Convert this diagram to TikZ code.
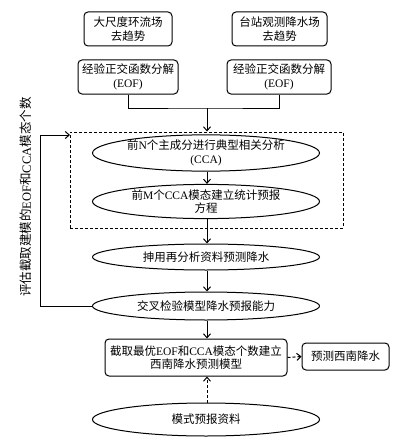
\documentclass[tikz,border=0pt]{standalone}
\usepackage{fontspec}
\setmainfont{Liberation Serif}
\newfontfamily\cjk{Noto Sans CJK SC}
\newcommand\latn[1]{{\rmfamily #1}}
\usetikzlibrary{shapes.geometric,arrows.meta,calc}
\begin{document}
\begin{tikzpicture}[x=1pt,y=-1pt,
  every node/.style={font=\cjk\fontsize{11.5}{13.5}\selectfont},
  rbox/.style={draw,rounded corners=4pt,align=center,inner sep=0pt,line width=1pt},
  ell/.style={draw,ellipse,align=center,inner sep=0pt,minimum width=227pt,line width=1pt},
  dbox/.style={draw,dash pattern=on 3pt off 2pt,line width=1pt,inner sep=0pt,minimum width=273pt,minimum height=96pt},
  arr/.style={-{Straight Barb[length=4pt,width=7pt]},line width=1pt},
  darr/.style={arr,dash pattern=on 3pt off 2pt},
  ln/.style={line width=1pt}]
\useasboundingbox (0,0) rectangle (407,444);
\fill[white] (0,0) rectangle (407,444);

\node[rbox,minimum width=88pt,minimum height=34pt] (b1) at (128,29) {大尺度环流场\\去趋势};
\node[rbox,minimum width=95pt,minimum height=34pt] (b2) at (279.5,29) {台站观测降水场\\去趋势};
\node[rbox,minimum width=100pt,minimum height=34pt] (e1) at (128,77) {经验正交函数分解\\\latn{(EOF)}};
\node[rbox,minimum width=104pt,minimum height=34pt] (e2) at (279,77) {经验正交函数分解\\\latn{(EOF)}};

\node[dbox] (db) at (206.5,180) {};
\coordinate (j) at (207,108);

\node[ell,minimum height=31pt] (c1) at (206,153) {前\latn{N}个主成分进行典型相关分析\\\latn{(CCA)}};
\node[ell,minimum height=34pt] (c2) at (206,201.5) {前\latn{M}个\latn{CCA}模态建立统计预报\\方程};
\node[ell,minimum height=26pt] (c3) at (206,257) {抻用再分析资料预测降水};
\node[ell,minimum height=28pt] (c4) at (206,306) {交叉检验模型降水预报能力};
\node[rbox,minimum width=182pt,minimum height=37pt] (b5) at (196,357.5) {截取最优\latn{EOF}和\latn{CCA}模态个数建立\\西南降水预测模型};
\node[rbox,minimum width=87pt,minimum height=27pt] (b6) at (345.5,356.5) {预测西南降水};
\node[ell,minimum height=33pt] (c7) at (206,419.5) {模式预报资料};

\node[rotate=90,font=\cjk\fontsize{12.5}{14}\selectfont] (lab) at (26,197) {评估截取建模的\latn{EOF}和\latn{CCA}模态个数};

\draw[ln] (e1.south) |- (j) -| (e2.south);
\draw[arr] (j) -- (db.north -| j);
\draw[arr] (c1.south -| j) -- (c2.north -| j);
\draw[arr] (c2.south -| j) -- (c3.north -| j);
\draw[arr] (c3.south -| j) -- (c4.north -| j);
\draw[arr] (c4.south -| j) -- (b5.north -| j);
\draw[darr] (b5.east) -- (b6.west);
\draw[darr] (c7.north -| j) -- (b5.south -| j);
\coordinate (fbl) at (40,306);
\coordinate (fbin) at (70,135);
\draw[arr] (c4.west) -- (fbl) |- (fbin);
\end{tikzpicture}
\end{document}
